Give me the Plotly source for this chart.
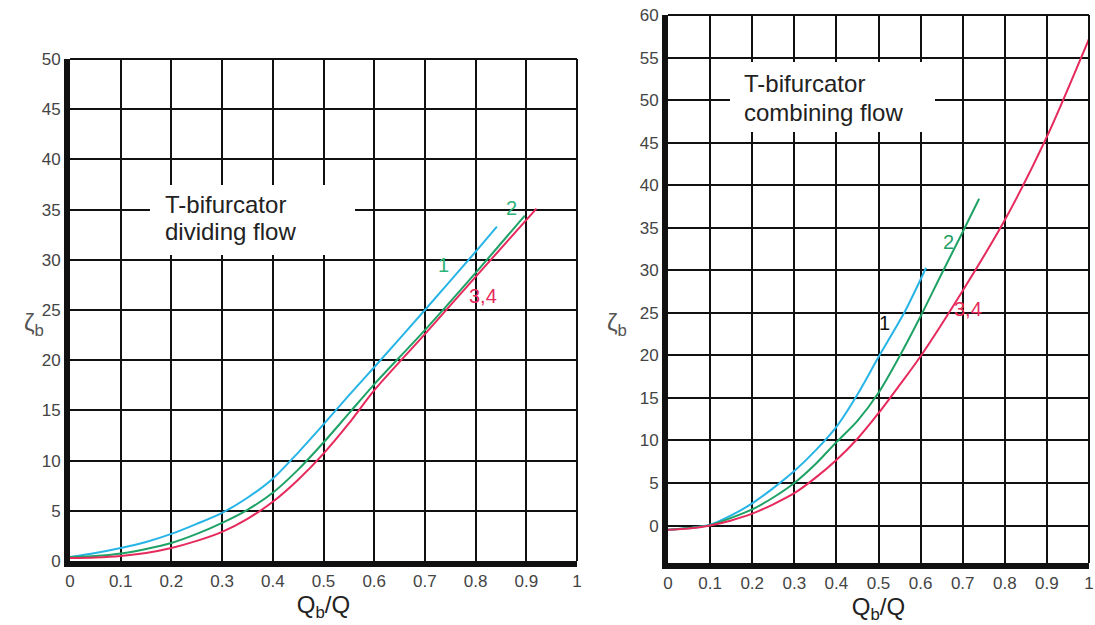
import plotly.graph_objects as go

# ---------------- data ----------------
# Left: T-bifurcator dividing flow
div_x1 = [0, 0.05, 0.1, 0.15, 0.2, 0.25, 0.3, 0.35, 0.4, 0.45, 0.5, 0.55, 0.6, 0.7, 0.8, 0.842]
div_y1 = [0.4, 0.8, 1.3, 1.9, 2.7, 3.7, 4.8, 6.3, 8.2, 10.8, 13.6, 16.5, 19.3, 25.0, 30.8, 33.3]
div_x2 = [0, 0.05, 0.1, 0.15, 0.2, 0.25, 0.3, 0.35, 0.4, 0.45, 0.5, 0.55, 0.6, 0.7, 0.8, 0.897]
div_y2 = [0.4, 0.5, 0.75, 1.2, 1.8, 2.7, 3.8, 5.1, 6.8, 9.1, 11.8, 14.7, 17.6, 23.0, 28.7, 34.4]
div_x3 = [0, 0.05, 0.1, 0.15, 0.2, 0.25, 0.3, 0.35, 0.4, 0.45, 0.5, 0.55, 0.6, 0.7, 0.8, 0.92]
div_y3 = [0.3, 0.35, 0.5, 0.8, 1.3, 2.0, 2.9, 4.2, 5.9, 8.1, 10.7, 13.7, 17.0, 22.6, 28.3, 35.1]

# Right: T-bifurcator combining flow
com_x1 = [0, 0.05, 0.1, 0.15, 0.2, 0.25, 0.3, 0.35, 0.4, 0.45, 0.5, 0.561, 0.613]
com_y1 = [-0.5, -0.3, 0.1, 1.2, 2.6, 4.4, 6.4, 8.8, 11.6, 15.4, 19.8, 25.0, 30.3]
com_x2 = [0, 0.05, 0.1, 0.15, 0.2, 0.25, 0.3, 0.35, 0.4, 0.45, 0.5, 0.55, 0.6, 0.65, 0.7, 0.739]
com_y2 = [-0.5, -0.3, 0.05, 0.9, 1.9, 3.3, 5.0, 7.2, 9.8, 12.3, 15.6, 19.9, 24.6, 29.6, 34.5, 38.4]
com_x3 = [0, 0.05, 0.1, 0.15, 0.2, 0.25, 0.3, 0.35, 0.4, 0.45, 0.5, 0.55, 0.6, 0.7, 0.8, 0.9, 1.0]
com_y3 = [-0.5, -0.35, 0.0, 0.6, 1.4, 2.5, 3.8, 5.6, 7.7, 10.2, 13.2, 16.5, 19.9, 27.6, 35.9, 45.7, 57.2]

x_ticks = [0, 0.1, 0.2, 0.3, 0.4, 0.5, 0.6, 0.7, 0.8, 0.9, 1]
x_tick_labels = ["0", "0.1", "0.2", "0.3", "0.4", "0.5", "0.6", "0.7", "0.8", "0.9", "1"]
y_ticks_left = [0, 5, 10, 15, 20, 25, 30, 35, 40, 45, 50]
y_ticks_right = [0, 5, 10, 15, 20, 25, 30, 35, 40, 45, 50, 55, 60]

# curve labels: (text, x, y)
left_labels = [("1", 0.736, 29.5), ("2", 0.87, 35.2), ("3,4", 0.815, 26.4)]
right_labels = [("1", 0.515, 23.8), ("2", 0.667, 33.3), ("3,4", 0.712, 25.4)]

# ---------------- style ----------------
C_CYAN = "#27b4e6"
C_GREEN = "#1fa265"
C_RED = "#e62a5c"
LBL_GREEN = "#2db37a"
FONT = "Liberation Sans, Arial, sans-serif"
W, H = 1095, 625

def px_x(p):
    return p / W

def px_y(p):
    return 1 - p / H

L_dom_x = [px_x(70), px_x(577)]
L_dom_y = [px_y(561), px_y(59)]
R_dom_x = [px_x(668), px_x(1089)]
R_dom_y = [px_y(563), px_y(15)]

fig = go.Figure()

def add_curve(x, y, color, xa, ya):
    fig.add_trace(go.Scatter(x=x, y=y, mode="lines", line=dict(color=color, width=2, shape="spline", smoothing=0.8),
                             xaxis=xa, yaxis=ya, showlegend=False, hoverinfo="skip"))

add_curve(div_x1, div_y1, C_CYAN, "x", "y")
add_curve(div_x2, div_y2, C_GREEN, "x", "y")
add_curve(div_x3, div_y3, C_RED, "x", "y")
add_curve(com_x1, com_y1, C_CYAN, "x2", "y2")
add_curve(com_x2, com_y2, C_GREEN, "x2", "y2")
add_curve(com_x3, com_y3, C_RED, "x2", "y2")

tickfont = dict(family=FONT, size=17, color="#444444")
common_axis = dict(showgrid=True, gridcolor="#111111", gridwidth=2, zeroline=False,
                   showline=True, linecolor="#111111", linewidth=6, ticks="",
                   tickfont=tickfont, fixedrange=True, automargin=False,
                   ticklabeloverflow="allow")

title_font = dict(family=FONT, size=24, color="#222222")
fig.update_layout(
    width=W, height=H,
    margin=dict(l=0, r=0, t=0, b=0, autoexpand=False),
    paper_bgcolor="white", plot_bgcolor="white",
    xaxis=dict(domain=L_dom_x, range=[0, 1], tickvals=x_ticks, ticktext=x_tick_labels, anchor="y",
               title=dict(text="Q<sub>b</sub>/Q", font=title_font, standoff=4), **common_axis),
    yaxis=dict(domain=L_dom_y, range=[0, 50], tickvals=y_ticks_left, anchor="x", **common_axis),
    xaxis2=dict(domain=R_dom_x, range=[0, 1], tickvals=x_ticks, ticktext=x_tick_labels, anchor="y2",
                title=dict(text="Q<sub>b</sub>/Q", font=title_font, standoff=4), **common_axis),
    yaxis2=dict(domain=R_dom_y, range=[-4.4, 60], tickvals=y_ticks_right, anchor="x2", **common_axis),
)

shapes = []
# top / right border lines (thin, like grid)
for dx, dy in [(L_dom_x, L_dom_y), (R_dom_x, R_dom_y)]:
    shapes.append(dict(type="line", xref="paper", yref="paper", x0=dx[0], x1=dx[1], y0=dy[1], y1=dy[1],
                       line=dict(color="#111111", width=2)))
    shapes.append(dict(type="line", xref="paper", yref="paper", x0=dx[1], x1=dx[1], y0=dy[0], y1=dy[1],
                       line=dict(color="#111111", width=2)))
# white boxes behind the captions (interrupt the grid)
shapes.append(dict(type="rect", xref="paper", yref="paper", x0=px_x(150), x1=px_x(355), y0=px_y(255), y1=px_y(185),
                   fillcolor="white", line=dict(width=0), layer="above"))
shapes.append(dict(type="rect", xref="paper", yref="paper", x0=px_x(730), x1=px_x(935), y0=px_y(132), y1=px_y(62),
                   fillcolor="white", line=dict(width=0), layer="above"))
fig.update_layout(shapes=shapes)

ann = []
cap_font = dict(family=FONT, size=24, color="#222222")
for txt, xp, yp in [("T-bifurcator", 163, 204), ("dividing flow", 163, 232),
                    ("T-bifurcator", 742, 84), ("combining flow", 742, 112)]:
    ann.append(dict(text=txt, xref="paper", yref="paper", x=px_x(xp), y=px_y(yp), xanchor="left", yanchor="middle",
                    showarrow=False, font=cap_font))

lbl_colors = {"1": LBL_GREEN, "2": LBL_GREEN, "3,4": C_RED}
for txt, xv, yv in left_labels:
    ann.append(dict(text=txt, x=xv, y=yv, xref="x", yref="y", showarrow=False,
                    font=dict(family=FONT, size=20, color=lbl_colors[txt])))
rlbl_colors = {"1": "#111111", "2": C_GREEN, "3,4": C_RED}
for txt, xv, yv in right_labels:
    ann.append(dict(text=txt, x=xv, y=yv, xref="x2", yref="y2", showarrow=False,
                    font=dict(family=FONT, size=20, color=rlbl_colors[txt])))

# y-axis titles (zeta_b)
for xp in [22, 617]:
    ann.append(dict(text="ζ<sub>b</sub>", xref="paper", yref="paper", x=px_x(xp), y=px_y(324),
                    showarrow=False, font=dict(family=FONT, size=24, color="#555555")))

fig.update_layout(annotations=ann)

fig.write_html("out.html")
